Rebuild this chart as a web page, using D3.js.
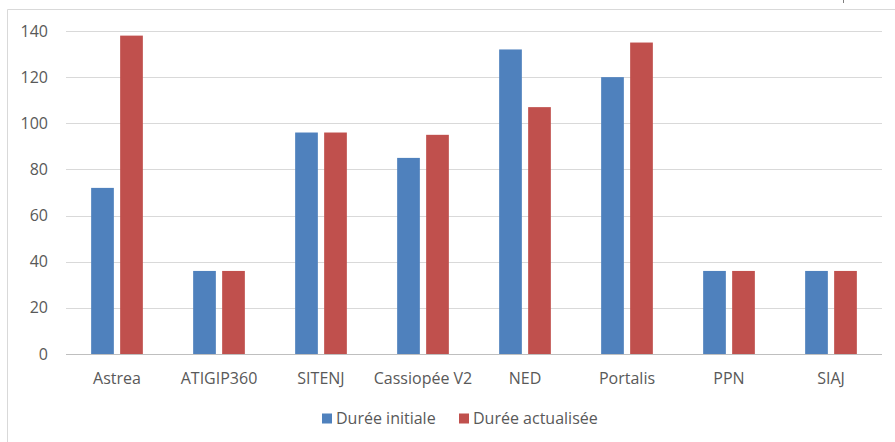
<!DOCTYPE html>
<html>
<head>
<meta charset="utf-8">
<script src="https://cdn.jsdelivr.net/npm/d3@7/dist/d3.min.js"></script>
<style>
  body { margin: 0; background: #fff; }
  text { font-family: "Open Sans", "Liberation Sans", sans-serif; fill: #595959; }
</style>
</head>
<body>
<svg id="chart" width="895" height="442"></svg>
<script>
// data
const categories = ['Astrea', 'ATIGIP360', 'SITENJ', 'Cassiopée V2', 'NED', 'Portalis', 'PPN', 'SIAJ'];
const dureeInitiale = [72, 36, 96, 85, 132, 120, 36, 36];
const dureeActualisee = [138, 36, 96, 95, 107, 135, 36, 36];
const seriesNames = ['Durée initiale', 'Durée actualisée'];
const seriesColors = ['#4F81BD', '#C0504D'];
const yTicks = [0, 20, 40, 60, 80, 100, 120, 140];

const svg = d3.select('#chart');

// outer frame of the chart area
svg.append('path')
   .attr('d', 'M7.5,442 V9.5 H895')
   .attr('fill', 'none')
   .attr('stroke', '#d9d9d9');
// small mark cut at the top right
svg.append('line')
   .attr('x1', 843.5).attr('x2', 843.5).attr('y1', 0).attr('y2', 3)
   .attr('stroke', '#7f7f7f');

const margin = { left: 66, right: 13, top: 31, bottom: 88 };
const width = 895, height = 442;

const x = d3.scaleBand()
  .domain(categories)
  .range([margin.left, width - margin.right]);

const y = d3.scaleLinear()
  .domain([0, 140])
  .range([height - margin.bottom, margin.top]);

const barW = 22.7, gap = 6.3;

// gridlines
svg.append('g').selectAll('line')
  .data(yTicks.filter(d => d > 0))
  .join('line')
    .attr('x1', margin.left).attr('x2', width - margin.right)
    .attr('y1', d => Math.round(y(d)) + 0.5).attr('y2', d => Math.round(y(d)) + 0.5)
    .attr('stroke', '#d9d9d9');

// y labels
svg.append('g').selectAll('text')
  .data(yTicks)
  .join('text')
    .attr('x', 48).attr('y', d => y(d))
    .attr('dy', '0.35em')
    .attr('text-anchor', 'end')
    .style('font-size', '16px')
    .text(d => d);

// bars
const series = [dureeInitiale, dureeActualisee];
series.forEach((vals, s) => {
  svg.append('g').selectAll('rect')
    .data(vals)
    .join('rect')
      .attr('x', (d, i) => x(categories[i]) + x.bandwidth() / 2 + (s === 0 ? -gap / 2 - barW : gap / 2))
      .attr('y', d => y(d))
      .attr('width', barW)
      .attr('height', d => y(0) - y(d))
      .attr('fill', seriesColors[s]);
});

// baseline
svg.append('line')
  .attr('x1', margin.left).attr('x2', width - margin.right)
  .attr('y1', Math.round(y(0)) + 0.5).attr('y2', Math.round(y(0)) + 0.5)
  .attr('stroke', '#bfbfbf');

// category labels
svg.append('g').selectAll('text')
  .data(categories)
  .join('text')
    .attr('x', d => x(d) + x.bandwidth() / 2)
    .attr('y', 384)
    .attr('text-anchor', 'middle')
    .style('font-size', '16px')
    .text(d => d);

// legend
const legendX = [322, 459];
seriesNames.forEach((name, s) => {
  svg.append('rect')
    .attr('x', legendX[s]).attr('y', 413.5)
    .attr('width', 10).attr('height', 10)
    .attr('fill', seriesColors[s]);
  svg.append('text')
    .attr('x', legendX[s] + 14).attr('y', 423.5)
    .style('font-size', '16px')
    .text(name);
});
</script>
</body>
</html>
